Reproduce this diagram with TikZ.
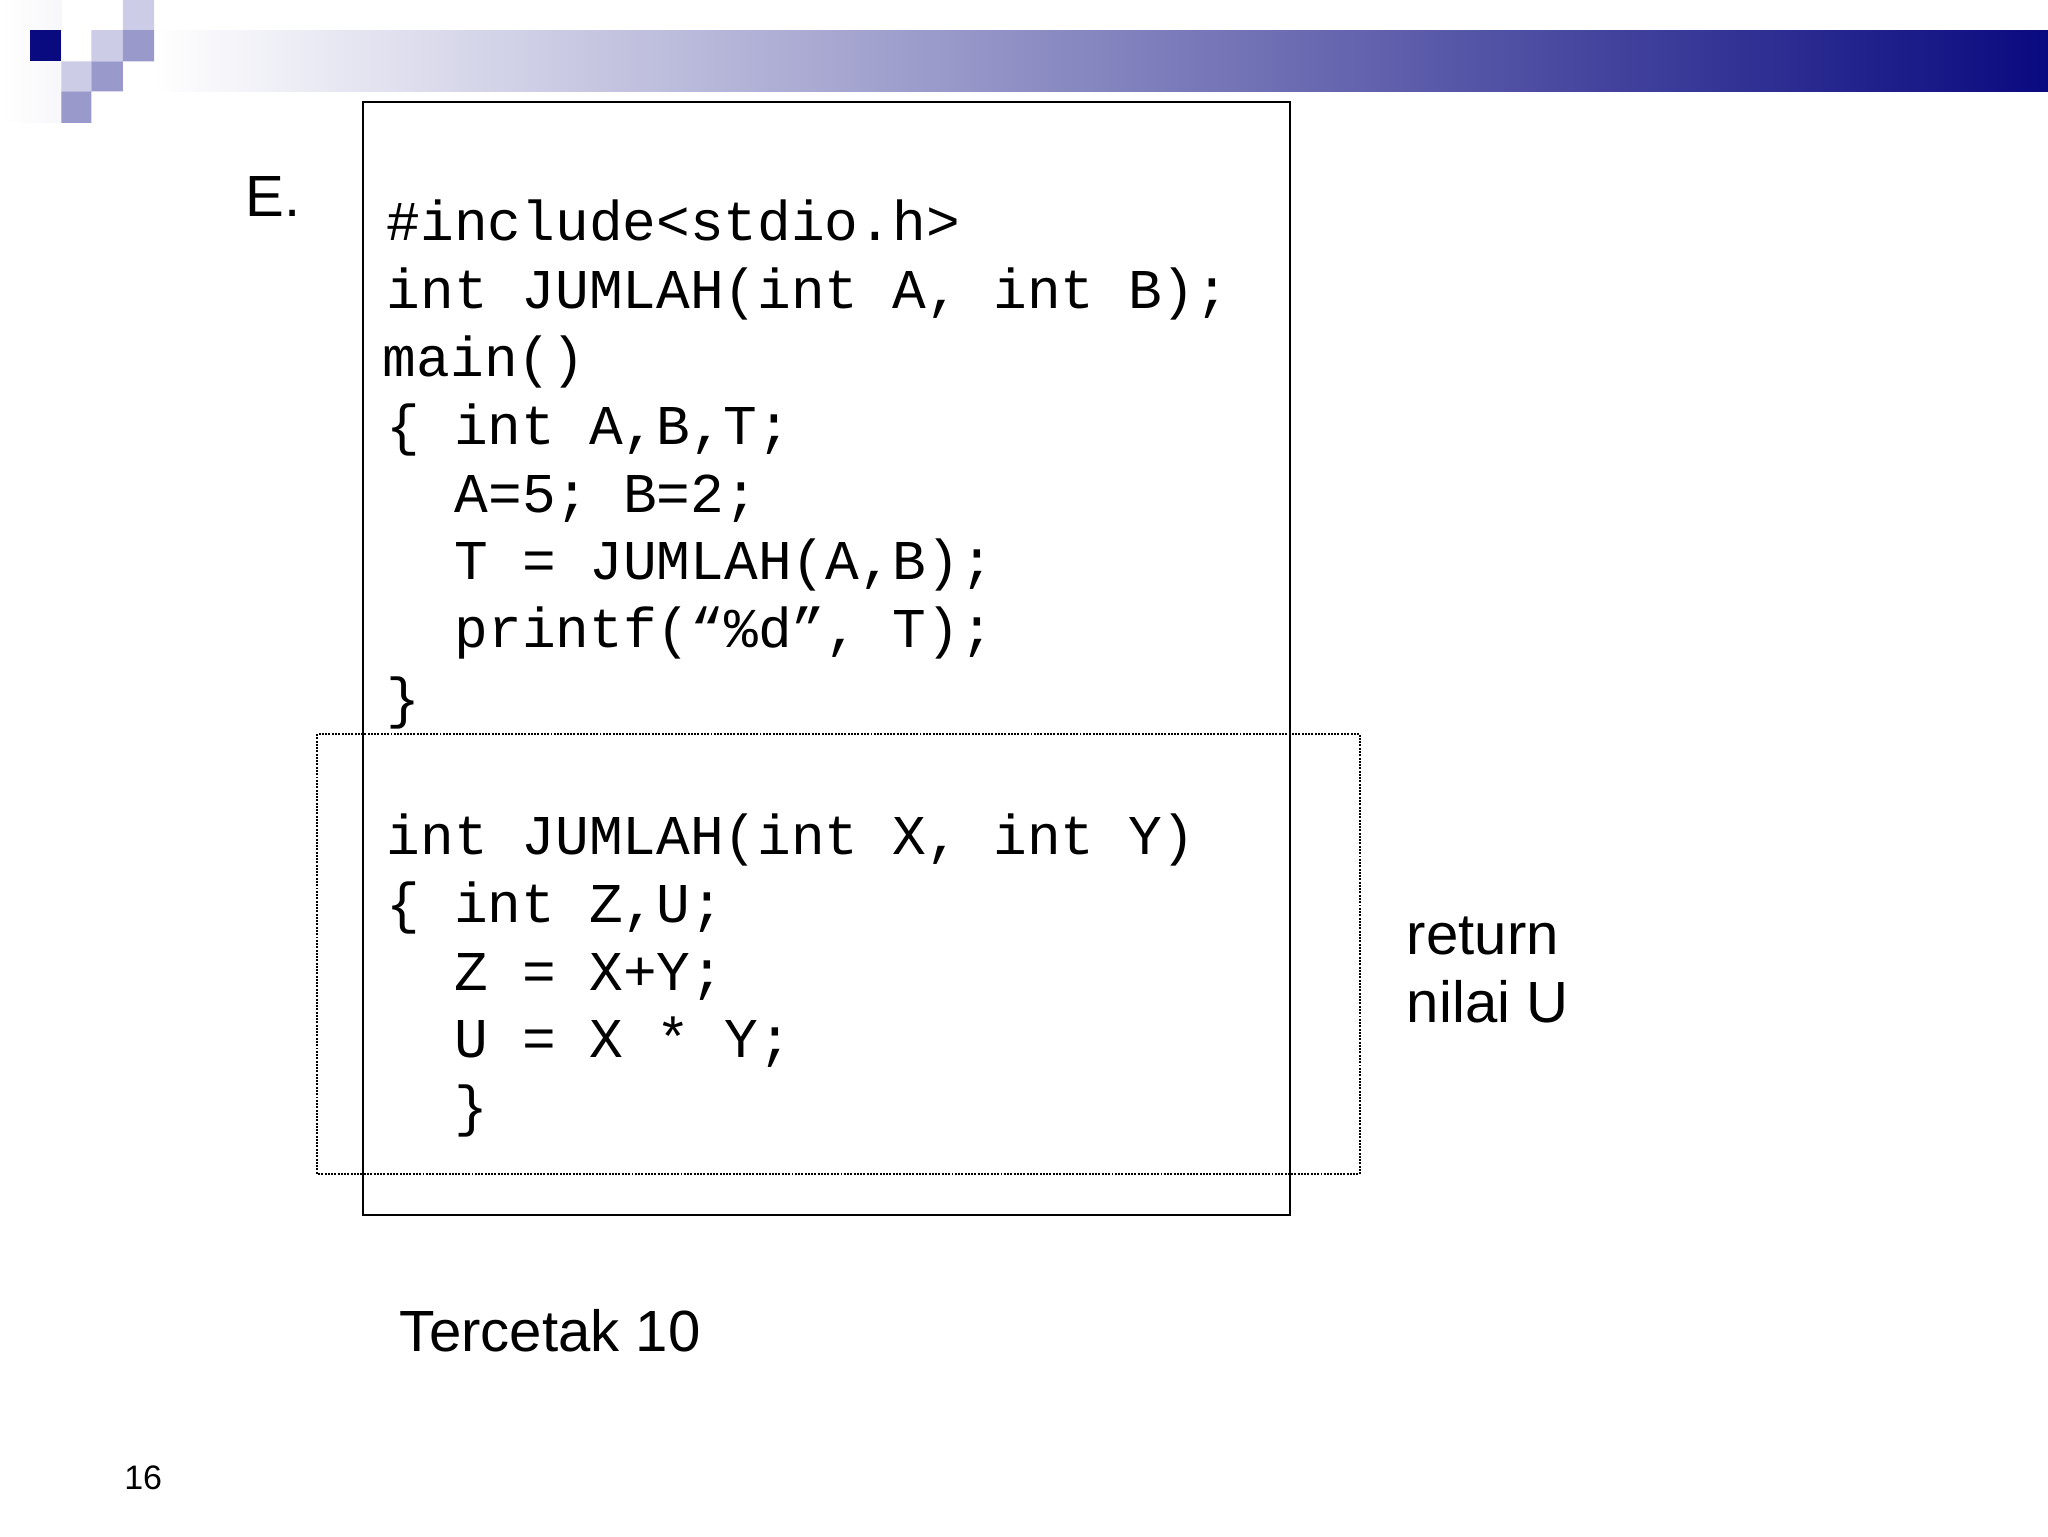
\documentclass[tikz,border=0pt]{standalone}
\usepackage{fontspec}
\setmainfont{Liberation Sans}
\newfontfamily\codefont{Liberation Mono}
\begin{document}
\begin{tikzpicture}[x=1pt,y=-1pt,
  code/.style={anchor=base west,inner sep=0pt,font=\codefont\fontsize{43}{52}\selectfont},
  lbl/.style={anchor=base west,inner sep=0pt,font=\fontsize{44.5}{52}\selectfont}]
\definecolor{navy}{HTML}{0A0A80}
\definecolor{lightp}{HTML}{CCCCE6}
\definecolor{medp}{HTML}{9999CC}
\useasboundingbox (0,0) rectangle (1568,1176);
\fill[white] (0,0) rectangle (1568,1176);
% header
\shade[left color=white,right color=white!85!lightp] (0,0) rectangle (47,94);
\shade[left color=white,right color=navy] (118,23) rectangle (1568,70);
\fill[navy] (23,23) rectangle (47,47);
\fill[lightp] (94,0) rectangle (118,23) (70,23) rectangle (94,47) (47,47) rectangle (70,70);
\fill[medp] (94,23) rectangle (118,47) (70,47) rectangle (94,70) (47,70) rectangle (70,94);
% boxes
\draw[line width=1.5pt] (278,78) rectangle (988,930);
\draw[line width=1.5pt,densely dotted] (243,562) rectangle (1041,899);
\node[lbl] (e) at (188,166) {E.};
\node[code] (l1) at (296,184) {\#include<stdio.h>};
\node[code] (l2) at (296,236) {int JUMLAH(int A, int B);};
\node[code] (l3) at (293,288) {main()};
\node[code] (l4) at (296,340) {\{ int A,B,T;};
\node[code] (l5) at (348,392) {A=5; B=2;};
\node[code] (l6) at (348,444) {T = JUMLAH(A,B);};
\node[code] (l7) at (348,496) {printf(“\%d”, T);};
\node[code] (l8) at (296,549) {\}};
\node[code] (m1) at (296,654) {int JUMLAH(int X, int Y)};
\node[code] (m2) at (296,706) {\{ int Z,U;};
\node[code] (m3) at (348,758) {Z = X+Y;};
\node[code] (m4) at (348,810) {U = X * Y;};
\node[code] (m5) at (348,862) {\}};
\node[lbl] (r1) at (1077,731) {return};
\node[lbl] (r2) at (1077,783) {nilai U};
\node[lbl] (t) at (306,1035) {Tercetak 10};
\node[anchor=base west,inner sep=0pt,font=\fontsize{26}{30}\selectfont] (n) at (95,1140) {16};
\end{tikzpicture}
\end{document}
